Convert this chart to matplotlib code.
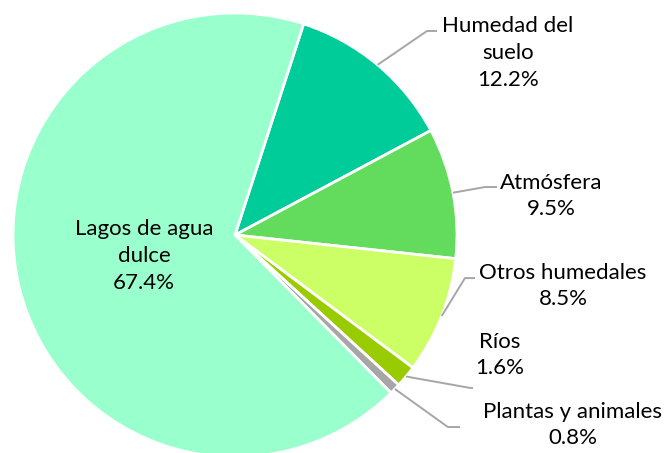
import numpy as np
import matplotlib.pyplot as plt

# data (clockwise from the Humedad slice)
labels = ['Humedad del\nsuelo', 'Atmósfera', 'Otros humedales', 'Ríos',
          'Plantas y animales', 'Lagos de agua\ndulce']
values = [12.2, 9.5, 8.5, 1.6, 0.8, 67.4]
colors = ['#00CC99', '#63DB5C', '#CCFF66', '#99CC00', '#A6A6A6', '#99FFCC']

# label layout (axes data units, pie radius = 1)
label_pos = [(1.23, 0.82), (1.423, 0.176), (1.477, -0.23), (1.194, -0.54),
             (1.52, -0.856), (-0.41, -0.095)]
elbows = [(0.865, 0.919), (1.126, 0.216), (1.036, -0.194), (1.06, -0.689),
          (0.959, -0.865), None]
ends = [(0.91, 0.919), (1.18, 0.216), (1.081, -0.194), (1.072, -0.689),
        (1.014, -0.865), None]

plt.rcParams['font.family'] = ['Lato', 'DejaVu Sans']

fig = plt.figure(figsize=(6.66, 4.53), dpi=100)
ax = fig.add_axes([13 / 666, -4 / 453, 444 / 666, 444 / 453])

wedges, _ = ax.pie(values, colors=colors, startangle=72, counterclock=False,
                   wedgeprops=dict(edgecolor='white', linewidth=2))
ax.set_xlim(-1, 1)
ax.set_ylim(-1, 1)

for w, lab, v, pos, el, en in zip(wedges, labels, values, label_pos, elbows, ends):
    ax.text(pos[0], pos[1], f'{lab}\n{v:.1f}%', ha='center', va='center',
            fontsize=16, linespacing=1.42, color='black', clip_on=False)
    if el is None:
        continue
    ang = np.deg2rad((w.theta1 + w.theta2) / 2)
    x0, y0 = np.cos(ang), np.sin(ang)
    ax.plot([x0, el[0], en[0]], [y0, el[1], en[1]], color='#A6A6A6',
            lw=1.4, clip_on=False, solid_capstyle='butt')

fig.savefig('out.png', dpi=100)
